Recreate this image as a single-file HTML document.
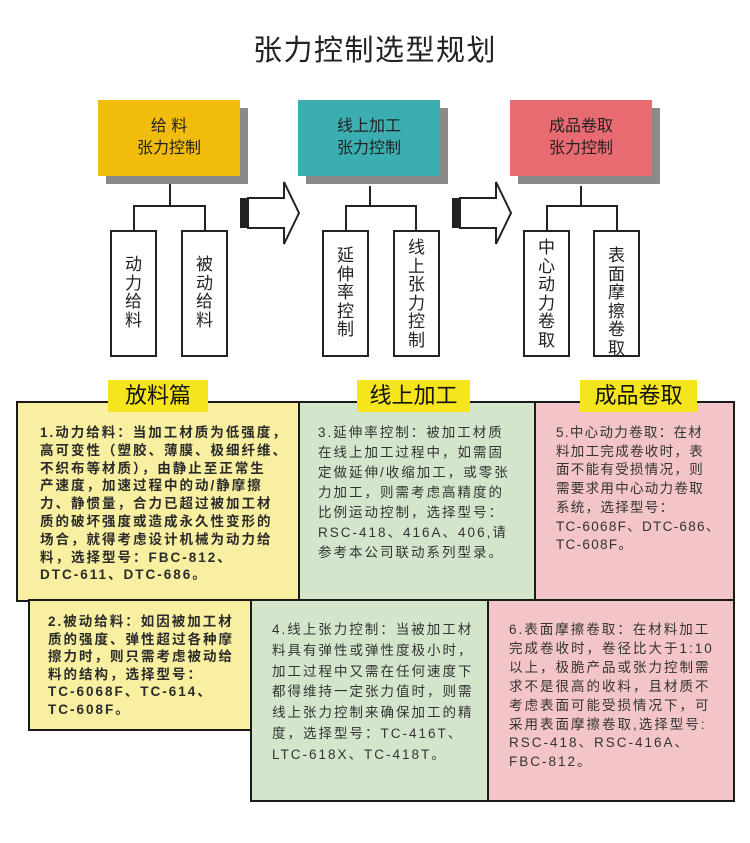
<!DOCTYPE html>
<html><head><meta charset="utf-8"><style>
*{margin:0;padding:0;box-sizing:border-box}
body{width:750px;height:843px;background:#fff;position:relative;overflow:hidden;font-family:"Liberation Sans","Noto Sans CJK SC",sans-serif;color:#222}
.a{position:absolute}
.hb{position:absolute;width:142px;height:76px;text-align:center;font-size:16px;line-height:22px;padding-top:16px;color:#222}
.sh{position:absolute;width:142px;height:76px;background:#8a8a8a}
.v{position:absolute;width:47px;height:127px;border:2px solid #222;background:#fff;font-size:17px;line-height:18.5px;text-align:center;padding:0 12px}
.ln{position:absolute;background:#222}
.p{position:absolute;border:2.5px solid #1a1a1a}
.t{position:absolute;font-size:13.5px;color:#333;white-space:nowrap;letter-spacing:2px}
.lab{position:absolute;background:#f5e51c;font-size:22px;line-height:32px;text-align:center;color:#111}
</style></head><body>
<div class="a" style="left:0;top:27px;width:750px;text-align:center;font-size:29px;letter-spacing:1.5px;color:#222">张力控制选型规划</div>

<div class="sh" style="left:106px;top:108px"></div>
<div class="hb" style="left:98px;top:100px;background:#f2bc0c">给 料<br>张力控制</div>
<div class="sh" style="left:306px;top:108px"></div>
<div class="hb" style="left:298px;top:100px;background:#3aaeb0">线上加工<br>张力控制</div>
<div class="sh" style="left:518px;top:108px"></div>
<div class="hb" style="left:510px;top:100px;background:#e96b72">成品卷取<br>张力控制</div>

<div class="ln" style="left:169px;top:184px;width:2px;height:22px"></div>
<div class="ln" style="left:133px;top:205px;width:73px;height:2px"></div>
<div class="ln" style="left:133px;top:205px;width:2px;height:25px"></div>
<div class="ln" style="left:204px;top:205px;width:2px;height:25px"></div>
<div class="ln" style="left:369px;top:186px;width:2px;height:20px"></div>
<div class="ln" style="left:345px;top:205px;width:72px;height:2px"></div>
<div class="ln" style="left:345px;top:205px;width:2px;height:25px"></div>
<div class="ln" style="left:415px;top:205px;width:2px;height:25px"></div>
<div class="ln" style="left:580px;top:186px;width:2px;height:20px"></div>
<div class="ln" style="left:546px;top:205px;width:72px;height:2px"></div>
<div class="ln" style="left:546px;top:205px;width:2px;height:25px"></div>
<div class="ln" style="left:616px;top:205px;width:2px;height:25px"></div>

<div class="v" style="left:110px;top:230px;padding-top:24px">动力给料</div>
<div class="v" style="left:181px;top:230px;padding-top:24px">被动给料</div>
<div class="v" style="left:322px;top:230px;padding-top:15px">延伸率控制</div>
<div class="v" style="left:393px;top:230px;padding-top:7px">线上张力控制</div>
<div class="v" style="left:523px;top:230px;padding-top:7px">中心动力卷取</div>
<div class="v" style="left:593px;top:230px;padding-top:15px">表面摩擦卷取</div>

<svg class="a" style="left:236px;top:180px" width="66" height="70"><rect x="4" y="18" width="6" height="30" fill="#222"/><polygon points="12,18 48,18 48,2 63,33 48,64 48,48 12,48" fill="#fff" stroke="#222" stroke-width="2"/><line x1="11" y1="18" x2="11" y2="48" stroke="#222" stroke-width="2"/></svg>
<svg class="a" style="left:448px;top:180px" width="66" height="70"><rect x="4" y="18" width="6" height="30" fill="#222"/><polygon points="12,18 48,18 48,2 63,33 48,64 48,48 12,48" fill="#fff" stroke="#222" stroke-width="2"/><line x1="11" y1="18" x2="11" y2="48" stroke="#222" stroke-width="2"/></svg>

<div class="p" style="left:16px;top:401px;width:285px;height:201px;background:#f8f0a0"></div>
<div class="p" style="left:298px;top:401px;width:239px;height:201px;background:#d3e6cc"></div>
<div class="p" style="left:534px;top:401px;width:201px;height:201px;background:#f3c5c8"></div>
<div class="p" style="left:28px;top:599px;width:224px;height:132px;background:#f8f0a0"></div>
<div class="p" style="left:250px;top:599px;width:239px;height:203px;background:#d3e6cc"></div>
<div class="p" style="left:487px;top:599px;width:248px;height:203px;background:#f3c5c8"></div>

<div class="lab" style="left:108px;top:380px;width:100px">放料篇</div>
<div class="lab" style="left:357px;top:380px;width:113px">线上加工</div>
<div class="lab" style="left:580px;top:380px;width:117px">成品卷取</div>

<div class="t" style="left:40px;top:424px;line-height:17.8px;font-weight:bold;color:#2a2a2a">1.动力给料：当加工材质为低强度，<br>高可变性（塑胶、薄膜、极细纤维、<br>不织布等材质），由静止至正常生<br>产速度，加速过程中的动/静摩擦<br>力、静惯量，合力已超过被加工材<br>质的破坏强度或造成永久性变形的<br>场合，就得考虑设计机械为动力给<br>料，选择型号：FBC-812、<br>DTC-611、DTC-686。</div>
<div class="t" style="left:318px;top:423px;line-height:20px">3.延伸率控制：被加工材质<br>在线上加工过程中，如需固<br>定做延伸/收缩加工，或零张<br>力加工，则需考虑高精度的<br>比例运动控制，选择型号：<br>RSC-418、416A、406,请<br>参考本公司联动系列型录。</div>
<div class="t" style="left:556px;top:424px;line-height:18.7px;letter-spacing:1.3px">5.中心动力卷取：在材<br>料加工完成卷收时，表<br>面不能有受损情况，则<br>需要求用中心动力卷取<br>系统，选择型号：<br>TC-6068F、DTC-686、<br>TC-608F。</div>
<div class="t" style="left:48px;top:613px;line-height:17.5px;font-weight:bold;color:#2a2a2a">2.被动给料：如因被加工材<br>质的强度、弹性超过各种摩<br>擦力时，则只需考虑被动给<br>料的结构，选择型号：<br>TC-6068F、TC-614、<br>TC-608F。</div>
<div class="t" style="left:272px;top:620px;line-height:20.8px">4.线上张力控制：当被加工材<br>料具有弹性或弹性度极小时，<br>加工过程中又需在任何速度下<br>都得维持一定张力值时，则需<br>线上张力控制来确保加工的精<br>度，选择型号：TC-416T、<br>LTC-618X、TC-418T。</div>
<div class="t" style="left:509px;top:621px;line-height:18.9px">6.表面摩擦卷取：在材料加工<br>完成卷收时，卷径比大于1:10<br>以上，极脆产品或张力控制需<br>求不是很高的收料，且材质不<br>考虑表面可能受损情况下，可<br>采用表面摩擦卷取,选择型号:<br>RSC-418、RSC-416A、<br>FBC-812。</div>
</body></html>
